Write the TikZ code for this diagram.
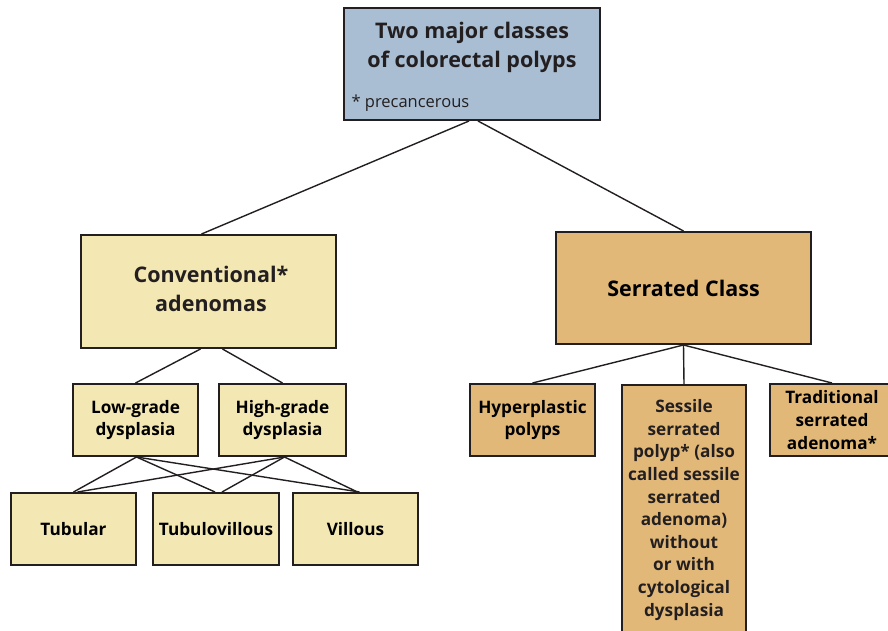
\documentclass[tikz,border=0pt]{standalone}
\usepackage{fontspec}
\setmainfont{Open Sans}
\definecolor{topblue}{HTML}{A9BED3}
\definecolor{paleyel}{HTML}{F3E7B3}
\definecolor{tan}{HTML}{E2B878}
\definecolor{edge}{HTML}{231F20}
\tikzset{
  box/.style={draw=edge, line width=2pt, inner sep=0pt, align=center, font=\bfseries},
  bigtxt/.style={font=\fontsize{21.5}{29}\selectfont\bfseries},
  smalltxt/.style={font=\fontsize{17.2}{22.6}\selectfont\bfseries},
  link/.style={draw=edge, line width=1.4pt}
}
\begin{document}
\begin{tikzpicture}[x=1pt,y=-1pt]
\useasboundingbox (0,0) rectangle (888,630);
% top
\node[box, fill=topblue, minimum width=256, minimum height=112] (top) at (472,64) {};
\node[bigtxt, align=center, text=edge] (toptxt) at (472,47) {Two major classes\\of colorectal polyps};
\node[anchor=west, font=\fontsize{16.5}{18}\selectfont, text=edge] (prec) at (348,103) {* precancerous};
% level 2
\node[box, fill=paleyel, minimum width=255, minimum height=113, bigtxt] (conv) at (208.5,291.5) {};
\node[bigtxt, align=center, text=edge] (convtxt) at (211,288.5) {Conventional*\\adenomas};
\node[box, fill=tan, minimum width=255, minimum height=112, bigtxt] (serr) at (683.5,288) {Serrated Class};
% level 3 left
\node[box, fill=paleyel, minimum width=125, minimum height=72, smalltxt] (low) at (135.5,420) {Low-grade\\dysplasia};
\node[box, fill=paleyel, minimum width=127, minimum height=72, smalltxt] (high) at (282.5,420) {High-grade\\dysplasia};
% level 4 left
\node[box, fill=paleyel, minimum width=125, minimum height=72, smalltxt] (tub) at (73.5,529) {Tubular};
\node[box, fill=paleyel, minimum width=126, minimum height=72, smalltxt] (tv) at (216,529) {Tubulovillous};
\node[box, fill=paleyel, minimum width=125, minimum height=72, smalltxt] (vil) at (355.5,529) {Villous};
% level 3 right
\node[box, fill=tan, minimum width=125, minimum height=72, smalltxt] (hyp) at (532.5,420) {Hyperplastic\\polyps};
\node[box, fill=tan, minimum width=124, minimum height=260, anchor=north] (ssp) at (684,384) {};
\node[smalltxt, align=center, anchor=north, text=edge] (ssptxt) at (684,396) {Sessile\\serrated\\polyp* (also\\called sessile\\serrated\\adenoma)\\without\\or with\\cytological\\dysplasia};
\node[box, fill=tan, minimum width=124, minimum height=72, smalltxt] (trad) at (832,420) {Traditional\\serrated\\adenoma*};
% connectors
\draw[link] ([xshift=-3]top.south) -- ([xshift=-7]conv.north);
\draw[link] ([xshift=6]top.south) -- (serr.north);
\draw[link] ([xshift=-8]conv.south) -- (low.north);
\draw[link] ([xshift=14]conv.south) -- (high.north);
\draw[link] ([xshift=1]low.south) -- (tub.north);
\draw[link] ([xshift=1]low.south) -- ([xshift=-1]tv.north);
\draw[link] ([xshift=1]low.south) -- ([xshift=4]vil.north);
\draw[link] ([xshift=2]high.south) -- ([xshift=4]tub.north);
\draw[link] ([xshift=2]high.south) -- ([xshift=6]tv.north);
\draw[link] ([xshift=2]high.south) -- ([xshift=2]vil.north);
\draw[link] (serr.south) -- (hyp.north);
\draw[link] (serr.south) -- (ssp.north);
\draw[link] (serr.south) -- (trad.north);
\end{tikzpicture}
\end{document}
